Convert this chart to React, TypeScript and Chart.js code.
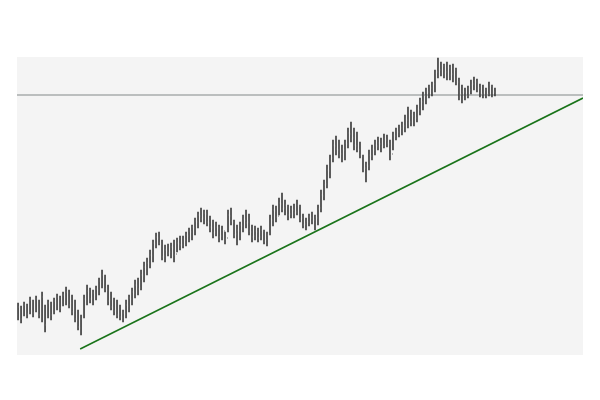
import React, { useEffect, useRef } from "react";
import { Chart, registerables } from "chart.js";

Chart.register(...registerables);

const highs = [
  52, 49, 53, 51, 58, 55, 59, 55, 63, 50, 55, 53, 57, 61, 59, 63, 68, 65, 60, 55,
  45, 40, 60, 70, 67, 65, 69, 77, 85, 80, 70, 63, 57, 55, 50, 45, 55, 60, 67, 75,
  77, 85, 93, 97, 105, 115, 122, 123, 115, 110, 111, 112, 115, 117, 119, 119, 123, 127, 130, 137,
  143, 147, 145, 145, 139, 135, 133, 130, 129, 123, 145, 147, 135, 130, 133, 140, 145, 141, 130, 129,
  127, 129, 125, 123, 140, 150, 149, 157, 162, 155, 150, 149, 151, 155, 150, 141, 137, 141, 143, 140,
  150, 165, 175, 190, 200, 215, 219, 215, 210, 215, 227, 233, 227, 223, 213, 200, 193, 205, 210, 215,
  218, 217, 221, 220, 215, 223, 227, 230, 233, 240, 248, 245, 243, 250, 257, 263, 267, 270, 273, 285,
  297, 293, 291, 293, 290, 291, 287, 277, 270, 267, 269, 275, 278, 276, 271, 270, 267, 273, 270, 267,
];
const lows = [
  35, 32, 39, 37, 41, 38, 43, 37, 33, 23, 37, 35, 41, 45, 43, 49, 50, 47, 40, 33,
  25, 20, 37, 50, 52, 50, 55, 60, 67, 63, 50, 45, 40, 37, 35, 33, 37, 43, 50, 57,
  60, 65, 73, 80, 87, 93, 107, 110, 95, 93, 99, 97, 93, 103, 105, 107, 109, 113, 115, 120,
  127, 133, 131, 129, 123, 117, 119, 113, 115, 111, 123, 130, 117, 110, 115, 123, 127, 120, 113, 115,
  113, 115, 111, 109, 120, 129, 133, 140, 143, 140, 135, 137, 137, 140, 133, 127, 125, 129, 131, 125,
  130, 143, 155, 167, 177, 193, 200, 197, 193, 195, 207, 213, 205, 203, 197, 183, 173, 185, 195, 200,
  205, 203, 207, 208, 195, 205, 215, 218, 220, 223, 227, 229, 229, 233, 240, 245, 251, 257, 259, 263,
  277, 279, 277, 275, 275, 273, 270, 255, 252, 255, 257, 261, 265, 263, 258, 257, 257, 259, 258, 259,
];
const opens = [
  40, 46, 40, 49, 43, 53, 45, 54, 42, 47, 38, 50, 42, 52, 56, 50, 58, 62, 52, 44,
  35, 27, 38, 55, 63, 57, 60, 65, 73, 79, 65, 55, 47, 45, 41, 37, 41, 49, 56, 62,
  69, 67, 79, 87, 91, 99, 111, 117, 111, 99, 104, 103, 107, 101, 111, 110, 115, 119, 123, 127,
  133, 139, 137, 141, 132, 127, 123, 127, 119, 124, 117, 139, 133, 121, 124, 129, 135, 133, 123, 119,
  123, 118, 124, 115, 121, 135, 144, 139, 151, 147, 149, 141, 145, 143, 149, 137, 131, 133, 137, 135,
  137, 147, 159, 171, 184, 197, 209, 205, 201, 205, 211, 221, 217, 209, 205, 199, 187, 189, 199, 205,
  209, 211, 209, 215, 211, 201, 219, 223, 227, 229, 235, 233, 239, 237, 245, 253, 259, 263, 267, 271,
  283, 285, 289, 283, 287, 281, 285, 273, 261, 263, 259, 265, 271, 273, 267, 261, 265, 261, 269, 263,
];
const closes = [
  48, 36, 50, 41, 55, 42, 56, 40, 58, 30, 52, 40, 54, 58, 47, 60, 63, 50, 43, 36,
  28, 36, 56, 64, 56, 62, 66, 74, 80, 66, 54, 48, 44, 40, 38, 42, 50, 57, 63, 70,
  66, 80, 88, 92, 100, 112, 118, 112, 98, 105, 102, 108, 100, 112, 110, 116, 120, 124, 128, 134,
  140, 136, 142, 133, 128, 122, 128, 118, 125, 116, 140, 134, 120, 125, 130, 136, 132, 124, 118, 124,
  117, 125, 114, 120, 136, 145, 138, 152, 146, 150, 140, 146, 142, 150, 136, 130, 134, 138, 134, 138,
  146, 160, 170, 185, 196, 210, 206, 200, 206, 212, 222, 216, 210, 206, 200, 186, 190, 200, 206, 210,
  212, 208, 216, 212, 200, 220, 224, 226, 230, 236, 232, 240, 236, 246, 254, 260, 264, 268, 270, 282,
  286, 290, 282, 288, 280, 286, 274, 260, 264, 258, 266, 270, 274, 266, 262, 266, 260, 270, 262, 262,
];

const resistanceLevel = 260;
const trendStart = { x: 20.7, y: 6 };
const trendEnd = { x: 188.35, y: 257 };

const X_MIN = -0.35;
const X_MAX = 188.35;
const Y_MIN = 0;
const Y_MAX = 298;

const BAR_COLOR = "#3c3c3c";
const TICK_COLOR = "#6a6a6a";

const bgPlugin = {
  id: "plotBg",
  beforeDraw(chart: any) {
    const { ctx, chartArea } = chart;
    if (!chartArea) return;
    ctx.save();
    ctx.fillStyle = "#f4f4f4";
    ctx.fillRect(chartArea.left, chartArea.top, chartArea.right - chartArea.left, chartArea.bottom - chartArea.top);
    ctx.restore();
  },
};

const ohlcTicksPlugin = {
  id: "ohlcTicks",
  afterDatasetsDraw(chart: any) {
    const { ctx } = chart;
    const xs = chart.scales.x;
    const ys = chart.scales.y;
    ctx.save();
    ctx.strokeStyle = TICK_COLOR;
    ctx.lineWidth = 1;
    ctx.beginPath();
    for (let i = 0; i < opens.length; i++) {
      const px = xs.getPixelForValue(i);
      const po = ys.getPixelForValue(opens[i]);
      const pc = ys.getPixelForValue(closes[i]);
      ctx.moveTo(px - 1, po);
      ctx.lineTo(px, po);
      ctx.moveTo(px, pc);
      ctx.lineTo(px + 1, pc);
    }
    ctx.stroke();
    ctx.restore();
  },
};

export default function App() {
  const ref = useRef<HTMLCanvasElement | null>(null);

  useEffect(() => {
    if (!ref.current) return;
    const barData = highs.map((h, i) => ({ x: i, y: [lows[i], h] }));
    const chart = new Chart(ref.current, {
      type: "bar",
      data: {
        datasets: [
          {
            type: "line",
            data: [
              { x: X_MIN, y: resistanceLevel },
              { x: X_MAX, y: resistanceLevel },
            ],
            borderColor: "#a9adad",
            borderWidth: 1.3,
            pointRadius: 0,
            order: 3,
          } as any,
          {
            type: "bar",
            data: barData as any,
            backgroundColor: BAR_COLOR,
            borderWidth: 0,
            barThickness: 1,
            order: 2,
          } as any,
          {
            type: "line",
            data: [trendStart, trendEnd],
            borderColor: "#1a741a",
            borderWidth: 1.6,
            pointRadius: 0,
            order: 1,
          } as any,
        ],
      },
      options: {
        animation: false,
        responsive: true,
        maintainAspectRatio: false,
        layout: { padding: { left: 17, right: 17, top: 57, bottom: 45 } },
        plugins: { legend: { display: false }, tooltip: { enabled: false } },
        scales: {
          x: { type: "linear", min: X_MIN, max: X_MAX, offset: false, display: false },
          y: { type: "linear", min: Y_MIN, max: Y_MAX, display: false },
        },
      } as any,
      plugins: [bgPlugin, ohlcTicksPlugin],
    });
    return () => chart.destroy();
  }, []);

  return (
    <div style={{ position: "fixed", left: 0, top: 0, width: 600, height: 400, background: "#fff" }}>
      <canvas ref={ref} />
    </div>
  );
}
